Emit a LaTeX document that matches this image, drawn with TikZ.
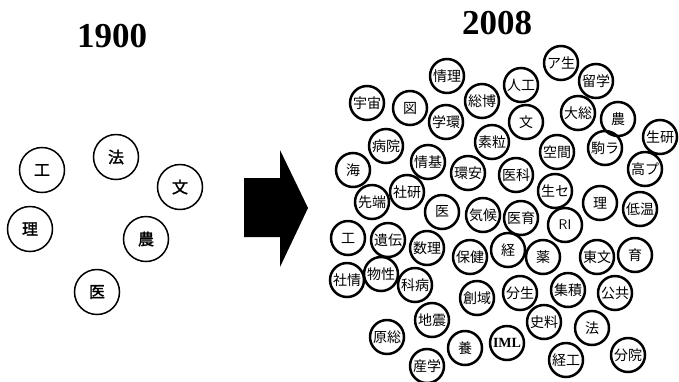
\documentclass[tikz,border=0pt]{standalone}
\usepackage{fontspec}
\setmainfont{Liberation Serif}
\newfontfamily\cjk{Noto Sans CJK JP}
\newfontfamily\cjkb[FakeBold=1.6]{Noto Sans CJK JP}
\begin{document}
\begin{tikzpicture}[x=1pt,y=-1pt,
  oldunit/.style={circle,draw,line width=1.5pt,minimum size=45pt,inner sep=0pt,
    font=\cjkb\fontsize{16}{16}\selectfont},
  newunit/.style={circle,draw,line width=2.5pt,minimum size=34pt,inner sep=0pt,
    font=\cjk\fontsize{14}{14}\selectfont},
  yeartitle/.style={font=\bfseries\fontsize{35}{35}\selectfont}]
\useasboundingbox (0,0) rectangle (679,381);

% year headings
\node[yeartitle] (y1900) at (112,36) {1900};
\node[yeartitle] (y2008) at (497,23) {2008};

% faculties around 1900
\node[oldunit] (o1) at (42,170) {工};
\node[oldunit] (o2) at (116,157) {法};
\node[oldunit] (o3) at (180,187) {文};
\node[oldunit] (o4) at (30,229) {理};
\node[oldunit] (o5) at (146,239) {農};
\node[oldunit] (o6) at (97,292) {医};

% big transition arrow
\fill (244,178) -- (280,178) -- (280,150) -- (308,208) -- (280,267)
  -- (280,237) -- (244,237) -- cycle;

% units in 2008
\node[newunit] (n1)  at (447,76)  {情理};
\node[newunit] (n2)  at (367,103) {宇宙};
\node[newunit] (n3)  at (410,108) {図};
\node[newunit] (n4)  at (482,101) {総博};
\node[newunit] (n5)  at (446,122) {学環};
\node[newunit] (n6)  at (492,142) {素粒};
\node[newunit] (n7)  at (386,146) {病院};
\node[newunit] (n8)  at (428,162) {情基};
\node[newunit] (n9)  at (353,170) {海};
\node[newunit] (n10) at (372,202) {先端};
\node[newunit] (n11) at (407,192) {社研};
\node[newunit] (n12) at (442,212) {医};
\node[newunit] (n13) at (483,215) {気候};
\node[newunit] (n14) at (468,173) {環安};
\node[newunit] (n15) at (516,175) {医科};
\node[newunit] (n16) at (521,218) {医育};
\node[newunit] (n17) at (348,238) {工};
\node[newunit] (n18) at (388,240) {遺伝};
\node[newunit] (n19) at (427,248) {数理};
\node[newunit] (n20) at (470,257) {保健};
\node[newunit] (n21) at (508,250) {経};
\node[newunit] (n22) at (543,257) {薬};
\node[newunit] (n23) at (477,298) {創域};
\node[newunit] (n24) at (520,293) {分生};
\node[newunit] (n25) at (544,322) {史料};
\node[newunit,font=\bfseries\fontsize{14}{14}\selectfont] (n26) at (507,343) {IML};
\node[newunit] (n27) at (465,348) {養};
\node[newunit] (n28) at (347,280) {社情};
\node[newunit] (n29) at (381,274) {物性};
\node[newunit] (n30) at (415,285) {科病};
\node[newunit] (n31) at (432,320) {地震};
\node[newunit] (n32) at (387,337) {原総};
\node[newunit] (n33) at (427,366) {産学};
\node[newunit] (n34) at (568,290) {集積};
\node[newunit] (n35) at (615,293) {公共};
\node[newunit] (n36) at (592,328) {法};
\node[newunit] (n37) at (566,360) {経工};
\node[newunit] (n38) at (628,355) {分院};
\node[newunit] (n39) at (555,191) {生セ};
\node[newunit] (n40) at (600,203) {理};
\node[newunit] (n41) at (640,209) {低温};
\node[newunit,font=\sffamily\fontsize{14}{14}\selectfont] (n42) at (565,225) {RI};
\node[newunit] (n43) at (597,257) {東文};
\node[newunit] (n44) at (635,255) {育};
\node[newunit] (n45) at (645,169) {高プ};
\node[newunit] (n46) at (561,63)  {ア生};
\node[newunit] (n47) at (596,81)  {留学};
\node[newunit] (n48) at (521,85)  {人工};
\node[newunit] (n49) at (578,113) {大総};
\node[newunit] (n50) at (618,119) {農};
\node[newunit] (n51) at (526,122) {文};
\node[newunit] (n52) at (660,137) {生研};
\node[newunit] (n53) at (557,152) {空間};
\node[newunit] (n54) at (605,148) {駒ラ};
\end{tikzpicture}
\end{document}
